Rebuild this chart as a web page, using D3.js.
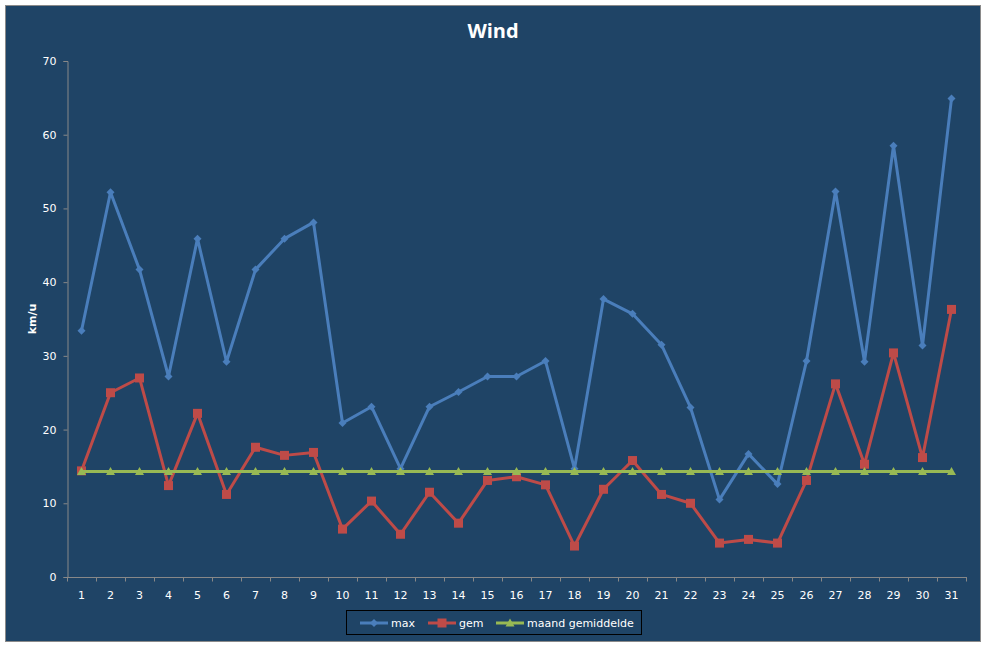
<!DOCTYPE html>
<html>
<head>
<meta charset="utf-8">
<script src="https://cdn.jsdelivr.net/npm/d3@7"></script>
<style>
html,body{margin:0;padding:0;background:#fff;}
svg{display:block;}
</style>
</head>
<body>
<svg id="chart" width="987" height="648"></svg>
<script>
const days = d3.range(1, 32);
const maxValues = [33.4,52.2,41.7,27.2,45.9,29.2,41.7,45.9,48.1,20.9,23.1,14.7,23.1,25.1,27.2,27.2,29.3,14.7,37.7,35.7,31.5,23.0,10.5,16.7,12.6,29.3,52.3,29.2,58.5,31.4,64.9];
const gemValues = [14.4,25.0,27.0,12.4,22.2,11.2,17.6,16.5,16.9,6.5,10.3,5.8,11.5,7.3,13.1,13.6,12.5,4.2,11.9,15.8,11.2,10.0,4.6,5.1,4.6,13.1,26.2,15.3,30.4,16.2,36.3];
const monthAvg = 14.3;
const avgValues = days.map(() => monthAvg);
const yTicks = [0,10,20,30,40,50,60,70];
const seriesNames = ["max","gem","maand gemiddelde"];
const titleText = "Wind";
const yLabel = "km/u";

const colors = ["#4A7EBB","#BE4B48","#98B954"];
const bg = "#1F4466";
const font = "'DejaVu Sans', Verdana, sans-serif";

const svg = d3.select("#chart");
svg.append("rect").attr("x",0).attr("y",0).attr("width",987).attr("height",648).attr("fill","#fff");
svg.append("rect").attr("x",5.5).attr("y",5.5).attr("width",975).attr("height",636)
  .attr("fill",bg).attr("stroke","#8a8a8a").attr("stroke-width",1);

const x = d3.scalePoint().domain(days).range([67, 966]).padding(0.5);
const y = d3.scaleLinear().domain([0,70]).range([577, 61]);

svg.append("text").attr("x",493).attr("y",38).attr("text-anchor","middle")
  .attr("font-family","'Open Sans', sans-serif").attr("font-weight",700).attr("font-size",20)
  .attr("fill","#fff").text(titleText);

// y axis
const yAxis = d3.axisLeft(y).tickValues(yTicks).tickSize(4).tickPadding(7);
const gy = svg.append("g").attr("transform","translate(67.5,0)").call(yAxis);
gy.select(".domain").attr("stroke","#888");
gy.selectAll(".tick line").attr("stroke","#888");
gy.selectAll(".tick text").attr("fill","#fff").attr("font-family",font).attr("font-size",11);

// x axis
const step = x.step();
const gx = svg.append("g").attr("transform","translate(0,577.5)");
gx.append("line").attr("x1",67).attr("x2",967).attr("y1",0).attr("y2",0).attr("stroke","#888");
const xTickPos = d3.range(0, days.length+1).map(i => x(days[0]) - step/2 + i*step);
gx.selectAll("line.tk").data(xTickPos).join("line").attr("class","tk")
  .attr("x1",d=>Math.round(d)+0.5).attr("x2",d=>Math.round(d)+0.5).attr("y1",0).attr("y2",4).attr("stroke","#888");
gx.selectAll("text").data(days).join("text")
  .attr("x",d=>x(d)).attr("y",21).attr("text-anchor","middle")
  .attr("fill","#fff").attr("font-family",font).attr("font-size",11).text(d=>d);

svg.append("text").attr("transform","translate(36,319) rotate(-90)").attr("text-anchor","middle")
  .attr("fill","#fff").attr("font-family",font).attr("font-weight",700).attr("font-size",11).text(yLabel);

const line = d3.line().x((d,i)=>x(days[i])).y(d=>y(d));
const allSeries = [maxValues, gemValues, avgValues];

function marker(g, type, cx, cy, color){
  if(type===0){
    g.append("path").attr("d",`M${cx},${cy-4}L${cx+4},${cy}L${cx},${cy+4}L${cx-4},${cy}Z`).attr("fill",color);
  } else if(type===1){
    g.append("rect").attr("x",cx-4.5).attr("y",cy-4.5).attr("width",9).attr("height",9).attr("fill",color);
  } else {
    g.append("path").attr("d",`M${cx},${cy-4.5}L${cx+4.5},${cy+3.5}L${cx-4.5},${cy+3.5}Z`).attr("fill",color);
  }
}

allSeries.forEach((vals, si) => {
  const g = svg.append("g");
  g.append("path").datum(vals).attr("d",line).attr("fill","none")
    .attr("stroke",colors[si]).attr("stroke-width",3).attr("stroke-linejoin","round");
  vals.forEach((v,i) => marker(g, si, x(days[i]), y(v), colors[si]));
});

// legend
const lg = svg.append("g");
lg.append("rect").attr("x",346.5).attr("y",610.5).attr("width",295).attr("height",24)
  .attr("fill","none").attr("stroke","#000").attr("stroke-width",1);
const legendX = [360, 428, 496];
seriesNames.forEach((n, i) => {
  const lx = legendX[i];
  lg.append("line").attr("x1",lx).attr("x2",lx+28).attr("y1",623).attr("y2",623)
    .attr("stroke",colors[i]).attr("stroke-width",3);
  marker(lg, i, lx+14, 623, colors[i]);
  lg.append("text").attr("x",lx+31).attr("y",627).attr("fill","#fff")
    .attr("font-family",font).attr("font-size",11).text(n);
});
</script>
</body>
</html>
